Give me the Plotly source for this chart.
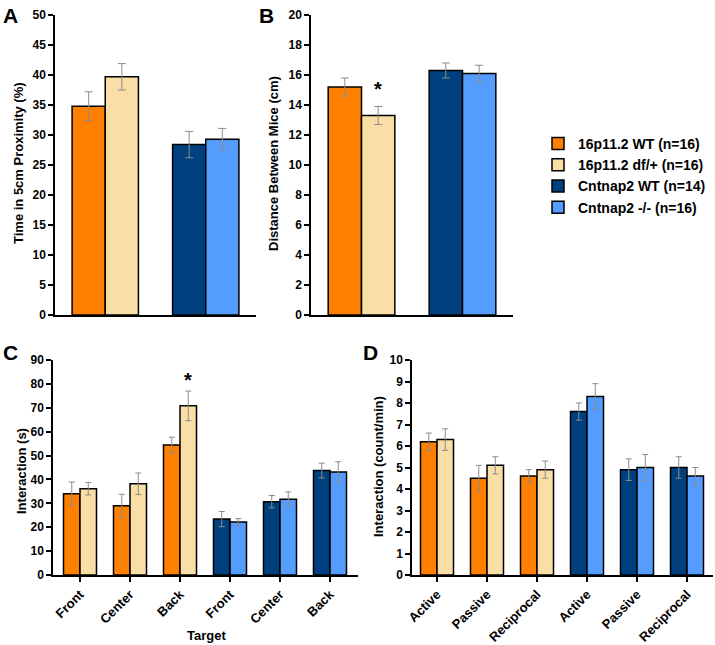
import plotly.graph_objects as go

W, H = 715, 645

# ---------------- data ----------------
series_names = ["16p11.2 WT (n=16)", "16p11.2 df/+ (n=16)", "Cntnap2 WT (n=14)", "Cntnap2 -/- (n=16)"]
series_colors = ["#FF7F00", "#F9DEA6", "#00407F", "#559CFF"]

# Panel A: Time in 5cm proximity (%)
a_values = [34.8, 39.7, 28.4, 29.3]
a_errors = [2.4, 2.2, 2.2, 1.8]

# Panel B: Distance between mice (cm)
b_values = [15.2, 13.3, 16.3, 16.1]
b_errors = [0.6, 0.6, 0.5, 0.55]

# Panel C: Interaction (s), by target
c_labels = ["Front", "Center", "Back", "Front", "Center", "Back"]
c_16_wt = [34.0, 29.0, 54.4]
c_16_wt_err = [4.9, 4.8, 3.3]
c_16_df = [36.1, 38.2, 70.8]
c_16_df_err = [2.6, 4.5, 6.2]
c_cn_wt = [23.4, 30.7, 43.7]
c_cn_wt_err = [3.2, 2.6, 3.1]
c_cn_ko = [22.2, 31.7, 43.1]
c_cn_ko_err = [1.4, 3.1, 4.3]

# Panel D: Interaction (count/min)
d_labels = ["Active", "Passive", "Reciprocal", "Active", "Passive", "Reciprocal"]
d_16_wt = [6.2, 4.5, 4.6]
d_16_wt_err = [0.4, 0.6, 0.3]
d_16_df = [6.3, 5.1, 4.9]
d_16_df_err = [0.5, 0.4, 0.4]
d_cn_wt = [7.6, 4.9, 5.0]
d_cn_wt_err = [0.4, 0.5, 0.5]
d_cn_ko = [8.3, 5.0, 4.6]
d_cn_ko_err = [0.6, 0.6, 0.4]

# ---------------- helpers ----------------
def px(x):
    return x / W

def py(y):
    return 1 - y / H

FONT = "Liberation Sans, Arial, sans-serif"
LINE = dict(color="black", width=1.5)

fig = go.Figure()

def add_bar(name_idx, x, y, err, xa, ya, show, capw):
    fig.add_trace(go.Bar(
        x=x, y=y, name=series_names[name_idx],
        marker=dict(color=series_colors[name_idx], line=LINE),
        error_y=dict(type="data", array=err, color="#8C8C8C", thickness=1, width=capw),
        offsetgroup="L" if name_idx in (0, 2) else "R",
        legendgroup=str(name_idx), showlegend=show,
        xaxis=xa, yaxis=ya,
    ))

# Panel A (x positions: 0 = 16p11.2 group, 1 = Cntnap2 group)
add_bar(0, [0], [a_values[0]], [a_errors[0]], "x", "y", True, 4)
add_bar(1, [0], [a_values[1]], [a_errors[1]], "x", "y", True, 4)
add_bar(2, [1], [a_values[2]], [a_errors[2]], "x", "y", True, 4)
add_bar(3, [1], [a_values[3]], [a_errors[3]], "x", "y", True, 4)

# Panel B
add_bar(0, [0], [b_values[0]], [b_errors[0]], "x2", "y2", False, 4)
add_bar(1, [0], [b_values[1]], [b_errors[1]], "x2", "y2", False, 4)
add_bar(2, [1], [b_values[2]], [b_errors[2]], "x2", "y2", False, 4)
add_bar(3, [1], [b_values[3]], [b_errors[3]], "x2", "y2", False, 4)

# Panel C
left3 = [0, 1, 2]
right3 = [3, 4, 5]
add_bar(0, left3, c_16_wt, c_16_wt_err, "x3", "y3", False, 3)
add_bar(1, left3, c_16_df, c_16_df_err, "x3", "y3", False, 3)
add_bar(2, right3, c_cn_wt, c_cn_wt_err, "x3", "y3", False, 3)
add_bar(3, right3, c_cn_ko, c_cn_ko_err, "x3", "y3", False, 3)

# Panel D
add_bar(0, left3, d_16_wt, d_16_wt_err, "x4", "y4", False, 3)
add_bar(1, left3, d_16_df, d_16_df_err, "x4", "y4", False, 3)
add_bar(2, right3, d_cn_wt, d_cn_wt_err, "x4", "y4", False, 3)
add_bar(3, right3, d_cn_ko, d_cn_ko_err, "x4", "y4", False, 3)

ytickfont = dict(family=FONT, size=12, color="black", weight="bold")
xtickfont = dict(family=FONT, size=13, color="black", weight="bold")

def yax(domain, rng, dtick, anchor):
    return dict(domain=domain, range=rng, dtick=dtick, anchor=anchor, automargin=False,
                showline=True, linecolor="black", linewidth=1.5,
                ticks="outside", ticklen=5, tickwidth=1.5, tickcolor="black",
                showgrid=False, zeroline=False, tickfont=ytickfont)

def xax(domain, rng, anchor, tickvals=None, ticktext=None):
    d = dict(domain=domain, range=rng, anchor=anchor, automargin=False,
             showline=True, linecolor="black", linewidth=1.5,
             showgrid=False, zeroline=False, tickfont=xtickfont)
    if tickvals is None:
        d.update(showticklabels=False, ticks="")
    else:
        d.update(tickmode="array", tickvals=tickvals, ticktext=ticktext,
                 ticks="outside", ticklen=5, tickwidth=1.5, tickcolor="black",
                 tickangle=-45)
    return d

topY = [py(315), py(15)]
botY = [py(575), py(360)]

fig.update_layout(
    width=W, height=H,
    margin=dict(l=0, r=0, t=0, b=0, autoexpand=False),
    paper_bgcolor="white", plot_bgcolor="white",
    barmode="group", bargap=0.34, bargroupgap=0,
    xaxis=xax([px(55), px(256)], [-0.5, 1.5], "y"),
    yaxis=yax(topY, [0, 50], 5, "x"),
    xaxis2=xax([px(311), px(513)], [-0.5, 1.5], "y2"),
    yaxis2=yax(topY, [0, 20], 2, "x2"),
    xaxis3=xax([px(53), px(358)], [-0.54, 5.56], "y3", [0, 1, 2, 3, 4, 5], c_labels),
    yaxis3=yax(botY, [0, 90], 10, "x3"),
    xaxis4=xax([px(412), px(713)], [-0.5, 5.52], "y4", [0, 1, 2, 3, 4, 5], d_labels),
    yaxis4=yax(botY, [0, 10], 1, "x4"),
    legend=dict(x=px(538), y=py(128), xanchor="left", yanchor="top",
                font=dict(family=FONT, size=14, color="black", weight="bold"),
                bgcolor="rgba(0,0,0,0)", tracegroupgap=0),
    showlegend=True,
)

title_font = dict(family=FONT, size=13, color="black", weight="bold")
letter_font = dict(family=FONT, size=21, color="black", weight="bold")

def note(text, x, y, font, angle=0):
    return dict(text=text, x=px(x), y=py(y), xref="paper", yref="paper",
                xanchor="center", yanchor="middle", textangle=angle,
                showarrow=False, font=font)

annotations = [
    note("A", 10, 15, letter_font),
    note("B", 266, 15, letter_font),
    note("C", 10, 352, letter_font),
    note("D", 370, 352, letter_font),
    note("Time in 5cm Proximity (%)", 18, 163, title_font, -90),
    note("Distance Between Mice (cm)", 273, 164, title_font, -90),
    note("Interaction (s)", 21, 471, title_font, -90),
    note("Interaction (count/min)", 378, 467, title_font, -90),
    note("Target", 206, 635, title_font),
    dict(text="*", x=0.165, y=15.07, xref="x2", yref="y2", showarrow=False,
         xanchor="center", yanchor="middle",
         font=dict(family=FONT, size=20, color="black", weight="bold")),
    dict(text="*", x=2.165, y=81.7, xref="x3", yref="y3", showarrow=False,
         xanchor="center", yanchor="middle",
         font=dict(family=FONT, size=20, color="black", weight="bold")),
]
fig.update_layout(annotations=annotations)

fig.write_html("out.html", config={"displayModeBar": False},
               post_script="document.body.style.margin='0';document.body.style.overflow='hidden';")
